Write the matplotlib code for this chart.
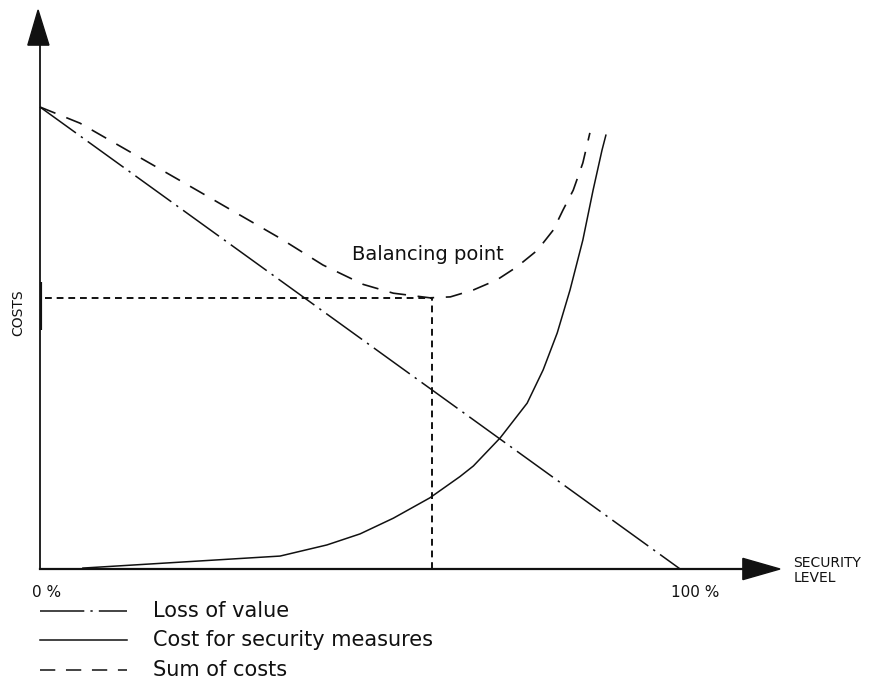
import matplotlib
matplotlib.use("Agg")
import matplotlib.pyplot as plt
from matplotlib.patches import Polygon

# security level (%) and costs (costs: 100 = start of loss line)
loss_x = [0, 100]
loss_y = [100, 0]

cost_x = [6.7, 37.5, 44.8, 50, 55.2, 60.9, 65.6, 67.7, 71.9, 76.1, 78.6, 80.8, 82.8,
          84.8, 86.4, 87.8, 88.4]
cost_y = [0.2, 2.8, 5.2, 7.6, 11.0, 15.4, 20.0, 22.3, 28.4, 35.9, 43.1, 51.1, 60.4,
          71.2, 82.0, 90.7, 93.9]

sum_x = [0, 6.25, 24.5, 37.5, 44.2, 50.5, 55.2, 60.9, 64.1, 67.7, 71.4, 74.5, 77.7,
         80.2, 81.7, 83.3, 84.8, 85.9]
sum_y = [100, 96.5, 82.0, 71.6, 65.8, 61.6, 59.7, 58.7, 58.9, 60.4, 62.6, 65.4, 69.0,
         73.4, 77.7, 82.0, 87.9, 94.4]

balance_x = 61.25
balance_y = 58.7

legend_labels = ["Loss of value", "Cost for security measures", "Sum of costs"]

ink = "#111111"
loss_dash = (0, (29, 4, 1.5, 4))
sum_dash = (0, (10, 7))
dot_dash = (0, (3.5, 2.5))

fig = plt.figure(figsize=(8.81, 6.85), dpi=100)
# axes placed so that 0..100 % maps onto the drawing's frame
ax = fig.add_axes([40 / 881, (685 - 569) / 685, 740 / 881, 559 / 685])
ax.set_xlim(0, 115.6)
ax.set_ylim(0, 121)
ax.axis("off")

# axes with arrow heads
ax.plot([0, 0], [0, 114], color=ink, lw=1.3, clip_on=False)
ax.plot([0, 110], [0, 0], color=ink, lw=1.6, clip_on=False)
ax.plot([0, 0], [51.7, 62.1], color=ink, lw=3, solid_capstyle="butt")
ax.add_patch(Polygon([[-0.3, 121], [-1.9, 113.4], [1.4, 113.4]], closed=True,
                     color=ink, clip_on=False))
ax.add_patch(Polygon([[115.6, 0], [109.8, 2.3], [109.8, -2.3]], closed=True,
                     color=ink, clip_on=False))

# curves
ax.plot(loss_x, loss_y, color=ink, lw=1.1, linestyle=loss_dash, clip_on=False)
ax.plot(cost_x, cost_y, color=ink, lw=1.1, clip_on=False)
ax.plot(sum_x, sum_y, color=ink, lw=1.2, linestyle=sum_dash, clip_on=False)

# balancing point guides
ax.plot([0.8, balance_x], [balance_y, balance_y], color=ink, lw=1.4, linestyle=dot_dash)
ax.plot([balance_x, balance_x], [0, balance_y], color=ink, lw=1.4, linestyle=dot_dash)
ax.text(60.6, 68.0, "Balancing point", fontsize=14, color=ink, ha="center", va="center")

# axis texts
ax.text(1.1, -5.0, "0 %", fontsize=11, color=ink, ha="center", va="center", clip_on=False)
ax.text(102.3, -5.0, "100 %", fontsize=11, color=ink, ha="center", va="center", clip_on=False)
ax.text(117.7, -0.4, "SECURITY\nLEVEL", fontsize=10, color=ink, ha="left", va="center",
        linespacing=1.1, clip_on=False)
ax.text(-3.4, 55.4, "COSTS", fontsize=10, color=ink, rotation=90, ha="center", va="center",
        clip_on=False)

# hand-drawn style legend below the frame
styles = [loss_dash, "-", sum_dash]
rows = [-9.1, -15.4, -21.9]
for lab, ls, yy in zip(legend_labels, styles, rows):
    ax.plot([0, 13.6], [yy, yy], color=ink, lw=1.1, linestyle=ls, clip_on=False)
    ax.text(17.7, yy, lab, fontsize=15, color=ink, ha="left", va="center", clip_on=False)

fig.savefig("out.png", dpi=100)
